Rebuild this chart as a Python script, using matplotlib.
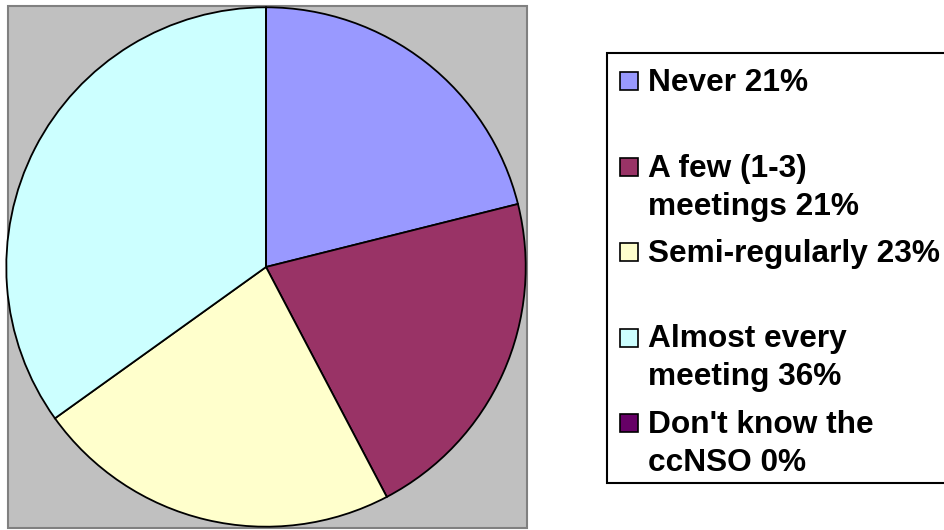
import matplotlib
matplotlib.use("Agg")
import matplotlib.pyplot as plt
import matplotlib.transforms as mtransforms
from matplotlib.patches import Rectangle

# chart data (slice sizes, labels as printed)
labels = ["Never 21%", "A few (1-3)\nmeetings 21%", "Semi-regularly 23%",
          "Almost every\nmeeting 36%", "Don't know the\nccNSO 0%"]
values = [21.1, 21.2, 22.8, 34.9, 0]
colors = ["#9999FF", "#993366", "#FFFFCC", "#CCFFFF", "#660066"]

W, H = 944, 530
fig = plt.figure(figsize=(W / 100, H / 100), dpi=100)
fig.patch.set_facecolor("white")

# pixel coords, origin top-left
px = mtransforms.Affine2D().scale(1 / W, -1 / H).translate(0, 1) + fig.transFigure

# gray plot area (behind the pie axes)
fig.patches.append(Rectangle((8, 6), 519, 522, transform=px, facecolor="#C0C0C0",
                             edgecolor="#808080", linewidth=1.5, zorder=-1))

# pie: bounding box x 5..527, y 6..528
cx, cy, r = 266, 267, 261
ax = fig.add_axes([(cx - r) / W, (H - cy - r) / H, 2 * r / W, 2 * r / H])
ax.set_zorder(2)
ax.set_facecolor("none")
ax.pie(values, colors=colors, startangle=90, counterclock=False, radius=1,
       wedgeprops=dict(edgecolor="black", linewidth=1.3))
ax.set_xlim(-1.005, 1.005)
ax.set_ylim(-1.005, 1.005)
ax.set_aspect("equal")
ax.axis("off")

# legend box
fig.patches.append(Rectangle((607, 53), 345, 430, transform=px, facecolor="white",
                             edgecolor="black", linewidth=1.5, zorder=1))

font = dict(family=["Liberation Sans", "DejaVu Sans"], weight="bold", size=22.8)
first_base = 91
step = 85.5
line_h = 38
for i, (lab, col) in enumerate(zip(labels, colors)):
    base = first_base + i * step
    fig.patches.append(Rectangle((620, base - 19), 18, 18, transform=px, facecolor=col,
                                 edgecolor="black", linewidth=1.2, zorder=2))
    for j, line in enumerate(lab.split("\n")):
        fig.text(648, base + j * line_h, line, transform=px, ha="left",
                 va="baseline", color="black", zorder=3, **font)

fig.savefig("out.png", dpi=100)
